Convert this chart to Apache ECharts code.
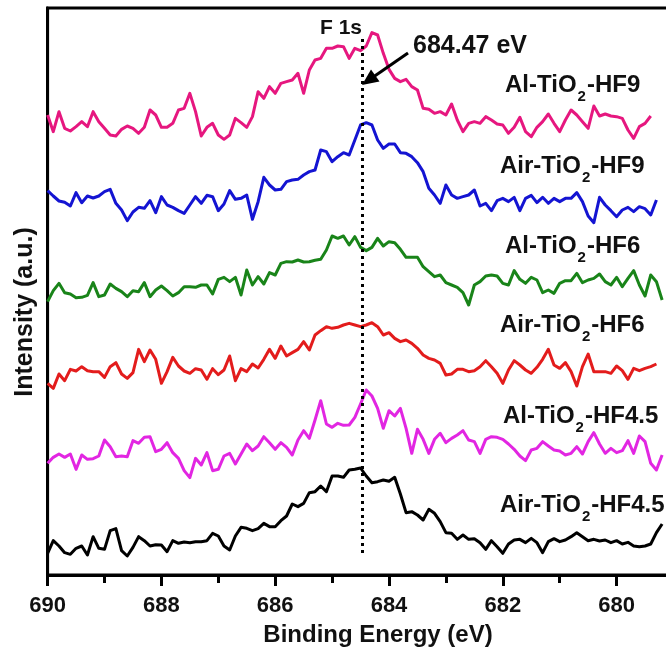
<!DOCTYPE html>
<html>
<head>
<meta charset="utf-8">
<script src="https://cdn.jsdelivr.net/npm/echarts@6/dist/echarts.min.js"></script>
<style>html,body{margin:0;padding:0;background:#fff}#c{width:666px;height:655px}</style>
</head>
<body>
<div id="c"></div>
<script>
// Binding energy grid (eV), 0.1 eV step from 690 down
var energyStart = 690.0;
var energyStep = 0.1;
var nPoints = 109;
var energies = [];
for (var k = 0; k < nPoints; k++) energies.push(+(energyStart - k * energyStep).toFixed(2));

var xTicks = [690, 688, 686, 684, 682, 680];
var peakEnergy = 684.47;

// Intensities (a.u., stacked offsets as drawn)
var alHF9 = [1380,1330,1390,1340,1332,1345,1360,1345,1390,1360,1340,1320,1317,1337,1347,1340,1325,1343,1395,1380,
 1343,1343,1355,1395,1400,1445,1390,1317,1343,1355,1320,1307,1320,1370,1357,1343,1375,1450,1430,1465,
 1445,1475,1480,1485,1505,1445,1515,1545,1550,1580,1580,1587,1585,1550,1580,1573,1587,1627,1620,1565,
 1517,1490,1480,1487,1465,1455,1400,1397,1385,1390,1380,1413,1365,1330,1355,1360,1355,1375,1365,1353,
 1350,1325,1343,1373,1330,1315,1343,1360,1383,1355,1330,1365,1395,1380,1360,1340,1407,1377,1383,1377,
 1375,1370,1335,1310,1345,1355,1377,null,null];
var airHF9 = [1153,1137,1122,1118,1107,1147,1117,1137,1131,1137,1150,1157,1115,1095,1063,1089,1103,1100,1123,1087,
 1135,1110,1103,1093,1085,1110,1135,1115,1139,1135,1093,1113,1153,1127,1130,1140,1067,1120,1193,1170,
 1155,1157,1180,1185,1187,1200,1210,1215,1275,1270,1240,1255,1267,1260,1305,1350,1357,1350,1305,1280,
 1293,1293,1267,1265,1255,1237,1210,1160,1140,1115,1170,1140,1130,1135,1140,1155,1107,1115,1093,1123,
 1130,1120,1133,1093,1130,1139,1117,1133,1115,1130,1120,1130,1130,1147,1120,1077,1057,1133,1110,1093,
 1075,1095,1103,1090,1105,1099,1080,1125,null];
var alHF6 = [820,853,875,847,843,832,833,839,877,835,840,873,860,850,835,853,850,877,835,855,
 867,853,837,847,865,865,863,870,870,843,887,893,880,893,840,915,870,895,873,907,
 900,935,940,939,945,939,940,944,947,975,1017,1010,1017,990,1015,983,973,983,1010,987,
 1000,997,977,953,953,953,925,910,895,900,877,870,863,847,810,870,880,897,900,897,
 875,870,913,887,875,893,885,847,855,845,875,883,883,905,877,885,890,903,880,870,
 893,865,890,913,870,837,900,880,825];
var airHF6 = [575,560,603,583,617,612,625,613,610,610,593,625,637,603,590,607,677,640,675,647,
 575,610,653,627,612,605,619,615,587,619,601,615,657,583,619,610,633,621,647,677,
 650,687,657,667,677,700,675,720,733,745,740,743,750,755,750,745,750,757,745,720,
 727,710,700,705,695,680,660,650,645,635,600,603,617,617,610,613,625,643,625,605,
 575,615,643,630,615,605,623,647,677,630,620,637,610,567,625,663,610,610,610,605,
 627,613,587,620,613,620,625,633,null];
var alHF45 = [335,353,363,353,363,317,360,347,349,357,405,385,355,357,355,403,395,413,415,370,
 377,397,367,350,313,292,350,330,367,313,317,357,365,333,363,393,373,387,415,397,
 377,397,383,360,405,433,410,465,523,453,443,455,449,450,473,513,555,537,500,440,
 493,477,500,440,365,437,407,365,407,425,397,410,420,433,405,400,365,407,415,413,
 407,393,377,357,343,375,380,400,387,375,372,360,365,385,363,400,427,393,365,380,
 367,373,403,365,417,400,335,315,360];
var airHF45 = [65,103,87,67,62,80,87,60,115,80,77,133,139,73,57,83,115,103,87,91,
 90,70,103,95,99,97,100,100,103,125,117,87,75,117,143,140,133,139,155,145,
 145,163,177,213,205,215,247,250,267,250,297,297,293,315,317,321,297,277,280,285,
 281,293,243,187,190,180,165,197,185,160,127,125,107,120,107,109,97,77,103,85,
 65,93,105,107,97,110,97,67,100,109,100,105,115,127,115,103,107,102,105,97,
 103,93,98,87,85,87,93,127,153];

var seriesNames = ['Al-TiO2-HF9','Air-TiO2-HF9','Al-TiO2-HF6','Air-TiO2-HF6','Al-TiO2-HF4.5','Air-TiO2-HF4.5'];
var seriesValues = [alHF9, airHF9, alHF6, airHF6, alHF45, airHF45];
var seriesColors = ['#E6177F','#1414D2','#198419','#E31C1C','#E226E2','#000000'];

function pairs(vals) {
  var out = [];
  for (var i = 0; i < vals.length && i < energies.length; i++) {
    if (vals[i] !== null) out.push([energies[i], vals[i]]);
  }
  return out;
}

var FONT = '"Liberation Sans", Arial, sans-serif';
var series = seriesValues.map(function (v, idx) {
  var s = {
    name: seriesNames[idx],
    type: 'line',
    data: pairs(v),
    showSymbol: false,
    symbol: 'none',
    lineStyle: { color: seriesColors[idx], width: 3, join: 'round' },
    itemStyle: { color: seriesColors[idx] },
    animation: false,
    z: 3
  };
  if (idx === 5) {
    s.markLine = {
      silent: true,
      symbol: 'none',
      label: { show: false },
      lineStyle: { color: '#000', width: 3, type: [3, 4] },
      data: [[{ coord: [peakEnergy, 66] }, { coord: [peakEnergy, 1611] }]],
      animation: false
    };
  }
  return s;
});

var labelTexts = [
  ['Al-TiO', '-HF9', 505, 85],
  ['Air-TiO', '-HF9', 500, 166],
  ['Al-TiO', '-HF6', 505, 246],
  ['Air-TiO', '-HF6', 500, 325],
  ['Al-TiO', '-HF4.5', 503, 416],
  ['Air-TiO', '-HF4.5', 500, 505]
];
var graphics = labelTexts.map(function (t) {
  return {
    type: 'text', left: t[2], top: t[3] - 12, z: 10,
    style: {
      text: '{a|' + t[0] + '}{s|2}{a|' + t[1] + '}{z|\u200b}',
      rich: {
        a: { fontSize: 24, lineHeight: 24, fontWeight: 'bold', fontFamily: FONT, fill: '#111', verticalAlign: 'top' },
        s: { fontSize: 15, lineHeight: 15, fontWeight: 'bold', fontFamily: FONT, fill: '#111', verticalAlign: 'bottom', padding: [0, 1, 0, 1] },
        z: { fontSize: 2, lineHeight: 31, verticalAlign: 'top' }
      }
    }
  };
});
graphics.push({
  type: 'text', x: 341, y: 28, z: 10,
  style: { text: 'F 1s', fontSize: 21, fontWeight: 'bold', fontFamily: FONT, fill: '#111', align: 'center', verticalAlign: 'middle' }
});
graphics.push({
  type: 'text', x: 413, y: 46, z: 10,
  style: { text: '684.47 eV', fontSize: 25, fontWeight: 'bold', fontFamily: FONT, fill: '#111', align: 'left', verticalAlign: 'middle' }
});
graphics.push({
  type: 'line', z: 10,
  shape: { x1: 408, y1: 53, x2: 374, y2: 76.5 },
  style: { stroke: '#000', lineWidth: 3 }
});
graphics.push({
  type: 'polygon', z: 10,
  shape: { points: [[362, 85], [379.5, 81.5], [371, 69.5]] },
  style: { fill: '#000' }
});
graphics.push({
  type: 'text', x: 25, y: 312, rotation: Math.PI / 2, z: 10,
  style: { text: 'Intensity (a.u.)', fontSize: 25, fontWeight: 'bold', fontFamily: FONT, fill: '#111', align: 'center', verticalAlign: 'middle' }
});
graphics.push({
  type: 'text', x: 378, y: 635, z: 10,
  style: { text: 'Binding Energy (eV)', fontSize: 24, fontWeight: 'bold', fontFamily: FONT, fill: '#111', align: 'center', verticalAlign: 'middle' }
});

var chart = echarts.init(document.getElementById('c'), null, { renderer: 'canvas' });
chart.setOption({
  backgroundColor: '#fff',
  animation: false,
  grid: { left: 47.6, top: 8, bottom: 80, width: 682.8, containLabel: false, outerBoundsMode: 'none', show: true, borderColor: '#000', borderWidth: 3, backgroundColor: 'transparent' },
  xAxis: {
    type: 'value', inverse: true, min: 678, max: 690, interval: 2,
    axisLine: { show: true, lineStyle: { color: '#000', width: 3 } },
    axisTick: { show: true, length: 11, lineStyle: { color: '#000', width: 3 } },
    minorTick: { show: true, splitNumber: 2, length: 8, lineStyle: { color: '#000', width: 3 } },
    splitLine: { show: false },
    minorSplitLine: { show: false },
    axisLabel: {
      margin: 20, fontSize: 22, fontWeight: 'bold', fontFamily: FONT, color: '#111',
      formatter: function (v) { return xTicks.indexOf(v) >= 0 ? String(v) : ''; }
    }
  },
  yAxis: {
    type: 'value', min: 0, max: 1701,
    axisLine: { show: true, lineStyle: { color: '#000', width: 3 } },
    axisTick: { show: false }, axisLabel: { show: false }, splitLine: { show: false }
  },
  series: series,
  graphic: graphics
});
</script>
</body>
</html>
